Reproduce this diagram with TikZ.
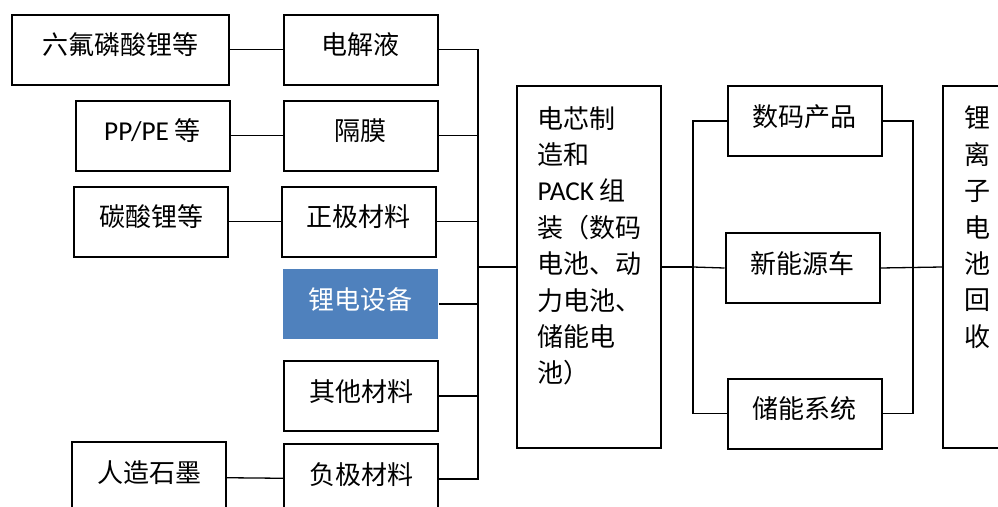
\documentclass[tikz,border=0pt]{standalone}
\usepackage{fontspec}
\setmainfont{Noto Sans CJK SC}
\newfontfamily\lat[Scale=1.05]{Carlito}
\definecolor{accblue}{RGB}{79,129,189}
\tikzset{
  box/.style={draw, line width=2pt, minimum width=154pt, minimum height=70pt,
    inner sep=0pt, text height=22pt, text depth=12pt, font=\fontsize{26}{36}\selectfont},
  tallbox/.style={box, minimum width=144pt, minimum height=362pt},
  inner/.style={anchor=north west, align=left, inner sep=0pt, xshift=22pt, yshift=-21pt,
    font=\fontsize{26}{36.4}\selectfont},
  link/.style={line width=1.3pt}
}
\begin{document}
\begin{tikzpicture}[x=1pt,y=-1pt]
      \useasboundingbox (0,0) rectangle (998,506);
      \clip (0,0) rectangle (998,506);
      \node[box, minimum width=217pt] (liufu) at (120.5,49.5) {六氟磷酸锂等};
      \node[box] (pppe) at (152.5,135.5) {{\lat PP/PE} 等};
      \node[box] (tansuan) at (151,221.5) {碳酸锂等};
      \node[box] (shimo) at (149,477) {人造石墨};
      \node[box] (dianjie) at (360.5,49.5) {电解液};
      \node[box] (gemo) at (360.5,135.5) {隔膜};
      \node[box] (zhengji) at (358.5,221.5) {正极材料};
      \node[box, draw=none, fill=accblue, text=white, minimum width=155pt] (shebei) at (360.5,304) {锂电设备};
      \node[box] (qita) at (361,396) {其他材料};
      \node[box] (fuji) at (361,479) {负极材料};
      \node[tallbox, label={[inner]north west:电芯制\\造和\\{\lat PACK} 组\\装（数码\\电池、动\\力电池、\\储能电\\池）}] (dianxin) at (588.5,267) {};
      \node[box] (shuma) at (804.5,121) {数码产品};
      \node[box] (xinneng) at (802.5,268) {新能源车};
      \node[box] (chuneng) at (804.5,413.5) {储能系统};
      \node[tallbox, minimum width=146pt, label={[inner]north west:锂\\离\\子\\电\\池\\回\\收}] (huishou) at (1016,267) {};
      \coordinate (busL) at (478,267);
      \coordinate (busM) at (693,267);
      \coordinate (busR) at (913,268);
      \begin{scope}[link]
        \draw (liufu) -- (dianjie);
        \draw (pppe) -- (gemo);
        \draw (tansuan) -- (zhengji);
        \draw (shimo) -- (fuji);
        \draw (dianjie.east) -| (busL);
        \draw (gemo.east) -| (busL);
        \draw (zhengji.east) -| (busL);
        \draw (shebei.east) -| (busL);
        \draw (qita.east) -| (busL);
        \draw (fuji.east) -| (busL);
        \draw[line width=2pt] (busL) -- (dianxin.west);
        \draw (dianxin.east) -- (busM);
        \draw (shuma.west) -| (busM);
        \draw (chuneng.west) -| (busM);
        \draw (busM) -- (xinneng.west);
        \draw (shuma.east) -| (busR);
        \draw (chuneng.east) -| (busR);
        \draw (xinneng.east) -- (huishou.west);
      \end{scope}
    \end{tikzpicture}
\end{document}
